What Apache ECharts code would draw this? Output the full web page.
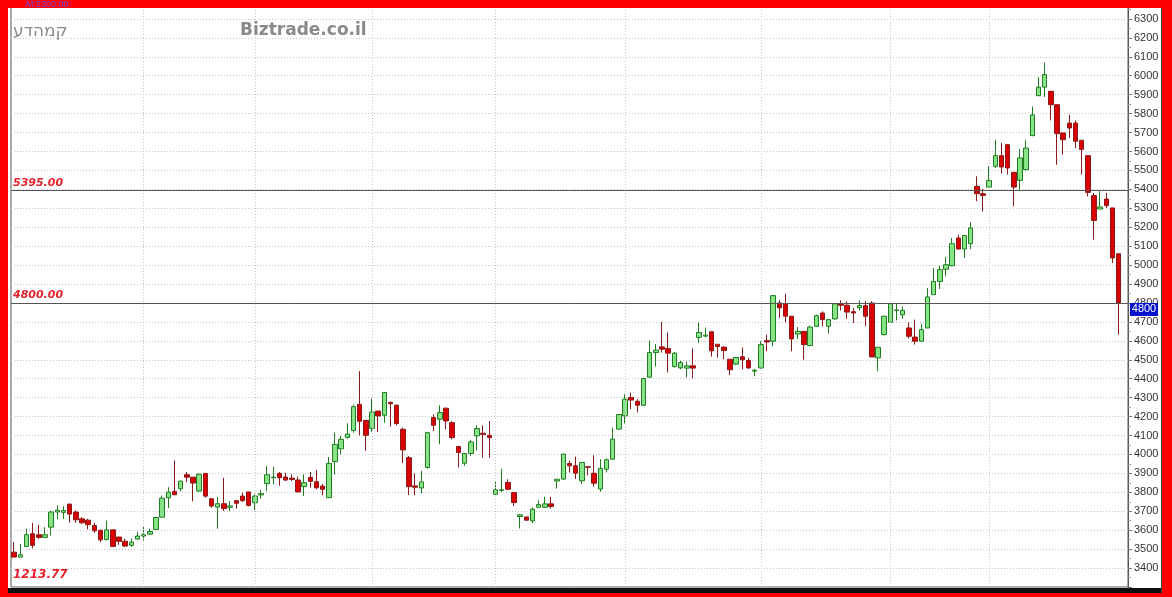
<!DOCTYPE html>
<html><head><meta charset="utf-8">
<script src="https://cdn.jsdelivr.net/npm/echarts@6/dist/echarts.min.js"></script>
<style>html,body{margin:0;padding:0;background:#fff;} #c{width:1172px;height:597px;}</style>
</head><body><div id="c"></div><script>
// ---- data ----
const opens = [3484,3458,3514,3581,3576,3562,3616,3696,3694,3738,3696,3660,3653,3625,3600,3551,3602,3564,3542,3520,3553,3569,3579,3604,3669,3771,3805,3819,3893,3880,
3807,3900,3766,3722,3740,3721,3756,3780,3802,3745,3786,3846,3877,3900,3881,3875,3865,3830,3879,3856,3833,3772,3962,4030,4090,4127,4264,4180,4138,4229,
4207,4275,4260,4133,3983,3834,3823,3931,4195,4186,4244,4168,4042,3954,4005,4098,4112,4101,3790,3810,3852,3799,3672,3670,3649,3721,3721,3739,3860,3870,
3952,3940,3861,3935,3901,3817,3922,3975,4134,4204,4301,4281,4260,4408,4538,4568,4560,4464,4457,4456,4468,4618,4625,4648,4582,4567,4503,4477,4516,4496,
4440,4457,4601,4598,4800,4796,4730,4636,4650,4575,4677,4747,4677,4716,4796,4788,4754,4775,4786,4800,4510,4633,4698,4760,4738,4668,4620,4598,4668,4844,
4914,4978,4997,5143,5085,5113,5416,5377,5412,5522,5578,5636,5490,5448,5504,5684,5895,5940,5918,5847,5698,5750,5750,5659,5578,5367,5296,5349,5302,5060];
const closes = [3458,3470,3576,3520,3562,3576,3696,3706,3704,3685,3655,3639,3629,3597,3549,3602,3514,3541,3516,3537,3569,3576,3593,3667,3769,3801,3787,3859,3880,3849,
3895,3780,3728,3740,3714,3728,3742,3756,3731,3780,3793,3893,3880,3877,3865,3868,3802,3851,3858,3824,3816,3953,4053,4080,4108,4252,4175,4101,4224,4203,
4327,4268,4163,4024,3830,3827,3855,4115,4154,4221,4177,4089,4010,4005,4066,4137,4105,4089,3813,3813,3816,3746,3681,3653,3711,3735,3739,3725,3869,4002,
3940,3901,3958,3932,3848,3926,3972,4081,4211,4292,4287,4260,4401,4538,4551,4556,4535,4535,4486,4468,4456,4644,4630,4547,4570,4549,4447,4512,4500,4457,
4445,4580,4594,4839,4774,4730,4610,4650,4580,4673,4733,4712,4712,4796,4788,4752,4747,4786,4730,4515,4566,4730,4796,4763,4761,4624,4598,4659,4832,4914,
4976,5002,5113,5085,5156,5196,5377,5368,5446,5578,5518,5513,5412,5566,5618,5793,5940,6006,5847,5694,5662,5724,5654,5610,5384,5236,5307,5314,5038,4800];
const lows = [3458,3458,3511,3505,3555,3558,3572,3657,3660,3639,3639,3634,3604,3586,3537,3546,3511,3523,3511,3511,3553,3546,3576,3604,3669,3717,3787,3805,3854,3752,
3802,3772,3719,3608,3701,3701,3714,3749,3726,3707,3766,3807,3842,3835,3860,3860,3802,3780,3824,3816,3784,3772,3895,4000,4083,4115,4101,4018,4118,4119,
4168,4147,4154,3954,3785,3785,3795,3925,4124,4054,4133,4080,3931,3940,3992,4022,3983,3983,3785,3802,3812,3728,3609,3649,3637,3721,3717,3714,3820,3866,
3905,3870,3843,3890,3831,3803,3905,3972,4130,4163,4239,4222,4257,4405,4464,4538,4433,4459,4450,4406,4401,4588,4618,4517,4512,4503,4419,4472,4450,4452,
4413,4452,4545,4571,4721,4698,4545,4610,4501,4571,4673,4677,4638,4712,4761,4716,4694,4761,4677,4515,4439,4628,4698,4708,4716,4612,4580,4598,4668,4844,
4874,4941,4994,5082,5038,5085,5337,5284,5412,5513,5483,5478,5310,5390,5500,5680,5891,5888,5764,5530,5583,5671,5618,5478,5363,5134,5296,5302,5011,4633];
const highs = [3537,3528,3608,3639,3629,3616,3704,3731,3727,3738,3704,3669,3660,3639,3600,3651,3602,3564,3555,3555,3590,3622,3608,3670,3783,3827,3968,3863,3907,3880,
3900,3900,3766,3777,3877,3754,3756,3798,3802,3789,3812,3939,3935,3907,3904,3895,3883,3895,3907,3919,3844,3986,4115,4097,4164,4264,4440,4180,4296,4229,
4330,4280,4265,4142,3992,3900,3913,4119,4212,4260,4248,4177,4045,4005,4077,4154,4154,4177,3855,3925,3869,3802,3684,3670,3720,3758,3777,3777,3869,4002,
3966,3989,3958,3940,3996,3975,3979,4142,4213,4318,4327,4292,4405,4600,4582,4700,4644,4542,4494,4489,4560,4697,4670,4648,4582,4570,4503,4512,4565,4510,
4452,4598,4633,4839,4814,4849,4730,4673,4650,4680,4738,4756,4716,4796,4814,4809,4774,4814,4809,4809,4566,4733,4800,4796,4782,4698,4712,4691,4879,4985,
4997,5043,5143,5161,5156,5226,5469,5402,5522,5662,5645,5636,5490,5613,5659,5838,5993,6071,5918,5847,5698,5794,5764,5659,5578,5381,5390,5381,5302,5060];
const yMin = 3300, yMax = 6400, yStep = 100;
const levelLines = [5395, 4800];
const monthBreaks = [21, 39, 58, 78, 99, 121, 142, 158];
const lastPrice = 4800;
const lowLabel = '1213.77';
const topMarker = 'M:5300.00';
const titleHe = 'קמהדע';
const brand = 'Biztrade.co.il';

// ---- build ----
const categories = opens.map((_, i) => String(i + 1)).concat(['']);
const ohlc = opens.map((o, i) => [o, closes[i], lows[i], highs[i]]);

const chart = echarts.init(document.getElementById('c'), null, {renderer: 'canvas'});
const markData = monthBreaks.map(i => ({
  xAxis: categories[i],
  lineStyle: {color: '#c4c4c4', type: [1, 2], width: 1},
  label: {show: false}
})).concat(levelLines.map(v => ({
  yAxis: v,
  lineStyle: {color: '#555', type: 'solid', width: 1},
  label: {show: true, position: 'insideStartTop', distance: [2, 2], formatter: v.toFixed(2),
    color: '#e8202a', fontStyle: 'italic', fontWeight: 'bold', fontSize: 11, fontFamily: 'DejaVu Sans'}
})));

chart.setOption({
  animation: false,
  backgroundColor: '#fff',
  grid: {left: 11, right: 44, top: 0, bottom: 10, show: true, borderColor: '#555', borderWidth: 1, backgroundColor: '#fff'},
  xAxis: {
    type: 'category', data: categories, boundaryGap: true,
    axisLine: {show: false}, axisTick: {show: false}, axisLabel: {show: false}, splitLine: {show: false}
  },
  yAxis: {
    type: 'value', position: 'right', min: yMin, max: yMax, interval: yStep, scale: true,
    axisLine: {show: true, lineStyle: {color: '#555'}},
    axisTick: {show: true, length: 4, lineStyle: {color: '#777'}},
    minorTick: {show: true, splitNumber: 2, length: 3, lineStyle: {color: '#999'}},
    axisLabel: {color: '#333', fontSize: 11, fontFamily: 'Liberation Sans, Arial', margin: 6,
      showMinLabel: false, showMaxLabel: false, formatter: v => String(v)},
    splitLine: {show: true, lineStyle: {color: '#c4c4c4', type: [1, 2], width: 1}}
  },
  series: [{
    type: 'candlestick', data: ohlc, barWidth: 5,
    itemStyle: {color: '#86e486', color0: '#d80000', borderColor: '#1f7d1f', borderColor0: '#8c1a1a', borderWidth: 1},
    markLine: {symbol: 'none', silent: true, animation: false, data: markData}
  }]
});

const py = chart.convertToPixel({yAxisIndex: 0}, lastPrice);
const redFill = '#ff0000';
chart.setOption({
  graphic: [
    {type: 'text', left: 13, top: 23, z: 50, style: {text: titleHe, fill: '#8a8a8a', font: '17px DejaVu Sans'}},
    {type: 'text', left: 240, top: 22, z: 50, style: {text: brand, fill: '#8a8a8a', font: 'bold 17px DejaVu Sans'}},
    {type: 'text', left: 13, top: 569, z: 50, style: {text: lowLabel, fill: '#e8202a', font: 'italic bold 12px DejaVu Sans'}},
    {type: 'rect', shape: {x: 1130, y: py, width: 28, height: 13}, z: 60, style: {fill: '#0010cc'}},
    {type: 'text', x: 1144, y: py + 6.5, z: 61, style: {text: String(lastPrice), fill: '#fff', font: '11px Liberation Sans', align: 'center', verticalAlign: 'middle'}},
    {type: 'rect', shape: {x: 8, y: 588, width: 1153, height: 5}, z: 90, style: {fill: '#111'}},
    {type: 'rect', shape: {x: 1161, y: 8, width: 1, height: 585}, z: 90, style: {fill: '#444'}},
    {type: 'rect', shape: {x: 0, y: 0, width: 1172, height: 8}, z: 100, style: {fill: redFill}},
    {type: 'rect', shape: {x: 0, y: 0, width: 8, height: 597}, z: 100, style: {fill: redFill}},
    {type: 'rect', shape: {x: 1162, y: 0, width: 10, height: 597}, z: 100, style: {fill: redFill}},
    {type: 'rect', shape: {x: 0, y: 593, width: 1172, height: 4}, z: 100, style: {fill: redFill}},
    {type: 'text', left: 26, top: 0, z: 110, style: {text: topMarker, fill: '#7a4ad8', font: '9px Liberation Sans'}}
  ]
});
</script></body></html>
